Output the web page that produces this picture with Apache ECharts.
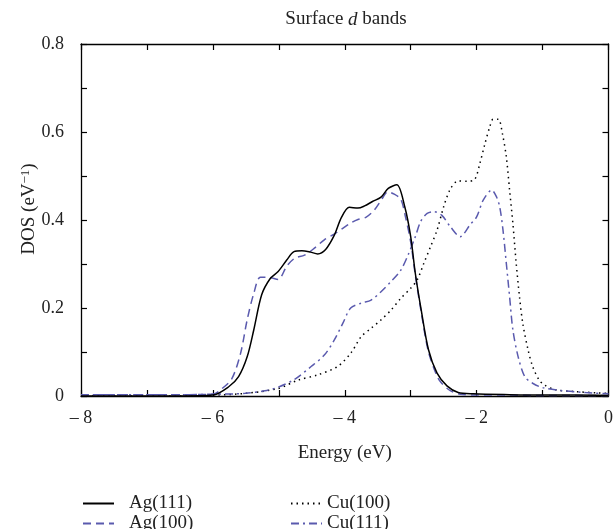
<!DOCTYPE html>
<html>
<head>
<meta charset="utf-8">
<script src="https://cdn.jsdelivr.net/npm/echarts@6/dist/echarts.min.js"></script>
<style>html,body{margin:0;padding:0;background:#fff}#c{width:616px;height:529px}</style>
</head>
<body>
<div id="c"></div>
<script>
var seriesNames = ['Ag(111)', 'Ag(100)', 'Cu(100)', 'Cu(111)'];
var xTicks = [-8, -6, -4, -2, 0];
var yTicks = [0, 0.2, 0.4, 0.6, 0.8];

var ag111E = [-8, -7, -6.5, -6.0, -5.76, -5.61, -5.48, -5.38, -5.26, -5.13, -5.01, -4.88, -4.77, -4.65, -4.52, -4.41, -4.29, -4.16, -4.05, -3.93, -3.80, -3.70, -3.58, -3.45, -3.34, -3.21, -3.09, -3.0, -2.93, -2.84, -2.73, -2.60, -2.45, -2.28, -2.05, -1.5, -1.0, -0.5, 0];
var ag111D = [0, 0, 0, 0.002, 0.021, 0.044, 0.089, 0.15, 0.23, 0.267, 0.283, 0.309, 0.328, 0.330, 0.327, 0.323, 0.333, 0.365, 0.406, 0.429, 0.427, 0.432, 0.442, 0.452, 0.472, 0.480, 0.430, 0.362, 0.279, 0.195, 0.105, 0.052, 0.023, 0.008, 0.005, 0.003, 0.002, 0.002, 0.001];

var ag100E = [-8, -7, -6.5, -6.0, -5.86, -5.71, -5.58, -5.48, -5.38, -5.28, -5.16, -5.01, -4.88, -4.76, -4.61, -4.46, -4.31, -4.16, -4.03, -3.91, -3.80, -3.68, -3.55, -3.43, -3.35, -3.25, -3.15, -3.08, -3.0, -2.93, -2.84, -2.73, -2.60, -2.53, -2.40, -2.25, -2.0, -1.5, -1.0, -0.5, 0];
var ag100D = [0.003, 0.003, 0.003, 0.004, 0.017, 0.040, 0.097, 0.173, 0.233, 0.27, 0.27, 0.265, 0.295, 0.313, 0.32, 0.336, 0.355, 0.368, 0.381, 0.393, 0.401, 0.406, 0.423, 0.449, 0.464, 0.459, 0.447, 0.408, 0.35, 0.275, 0.19, 0.10, 0.045, 0.029, 0.012, 0.004, 0.002, 0.002, 0.001, 0.001, 0.001];

var cu100E = [-8, -6.5, -6.0, -5.5, -5.01, -4.71, -4.41, -4.11, -3.91, -3.75, -3.60, -3.45, -3.30, -3.15, -3.00, -2.90, -2.80, -2.70, -2.60, -2.50, -2.40, -2.28, -2.15, -2.03, -1.95, -1.88, -1.80, -1.75, -1.67, -1.61, -1.55, -1.50, -1.45, -1.40, -1.35, -1.30, -1.22, -1.15, -1.05, -0.97, -0.80, -0.5, -0.15, 0];
var cu100D = [0, 0, 0.002, 0.006, 0.017, 0.036, 0.048, 0.067, 0.097, 0.135, 0.154, 0.173, 0.195, 0.222, 0.245, 0.264, 0.302, 0.339, 0.377, 0.430, 0.470, 0.489, 0.488, 0.492, 0.529, 0.57, 0.612, 0.629, 0.629, 0.597, 0.544, 0.468, 0.392, 0.302, 0.226, 0.165, 0.105, 0.067, 0.036, 0.025, 0.014, 0.01, 0.007, 0.006];

var cu111E = [-8, -7, -6.5, -6.0, -5.51, -5.21, -5.01, -4.76, -4.51, -4.31, -4.16, -4.03, -3.91, -3.75, -3.60, -3.45, -3.30, -3.15, -3.03, -2.93, -2.85, -2.75, -2.65, -2.53, -2.40, -2.25, -2.10, -2.0, -1.90, -1.77, -1.70, -1.65, -1.60, -1.55, -1.50, -1.45, -1.37, -1.27, -1.15, -1.0, -0.7, -0.35, 0];
var cu111D = [0.003, 0.003, 0.003, 0.004, 0.006, 0.012, 0.02, 0.038, 0.067, 0.093, 0.127, 0.165, 0.200, 0.211, 0.218, 0.237, 0.26, 0.286, 0.324, 0.362, 0.396, 0.415, 0.419, 0.411, 0.385, 0.362, 0.389, 0.407, 0.445, 0.468, 0.453, 0.430, 0.377, 0.302, 0.226, 0.15, 0.089, 0.044, 0.029, 0.019, 0.012, 0.008, 0.005];

function pairs(xs, ys) { return xs.map(function (x, i) { return [x, ys[i]]; }); }

var FONT = '"Liberation Serif", "DejaVu Serif", serif';
var BLUE = '#5a5aae';
var TXT = '#222';

function xLabel(v) { return v === 0 ? '0' : '\u2013 ' + Math.abs(v); }
function yLabel(v) { return v === 0 ? '0' : v.toFixed(1); }

var chart = echarts.init(document.getElementById('c'));
var axisLine = { show: true, onZero: false, lineStyle: { color: '#000', width: 1.3 } };
var tick = { show: true, inside: true, length: 6, lineStyle: { color: '#000', width: 1.2 } };
var minor = { show: true, splitNumber: 2, length: 6, lineStyle: { color: '#000', width: 1.2 } };

function legendItem(name, left, top, textPad) {
  return {
    data: [name], left: left, top: top, padding: 0, itemWidth: 31, itemHeight: 14,
    itemStyle: { opacity: 0 },
    textStyle: { fontFamily: FONT, fontSize: 19, color: TXT, padding: [0, 0, 0, textPad] }
  };
}

chart.setOption({
  animation: false,
  backgroundColor: '#fff',
  title: {
    text: 'Surface {i|d} bands',
    left: 341, top: 5, textAlign: 'center',
    textStyle: { fontFamily: FONT, fontSize: 19, fontWeight: 'normal', color: TXT,
      rich: { i: { fontFamily: FONT, fontSize: 19, fontStyle: 'italic', color: TXT } } }
  },
  grid: { left: 81, right: 3, top: 44, bottom: 133 },
  legend: [
    legendItem(seriesNames[0], 82, 494, 10),
    legendItem(seriesNames[1], 82, 514, 10),
    legendItem(seriesNames[2], 290, 494, 0),
    legendItem(seriesNames[3], 290, 514, 0)
  ],
  xAxis: [
    { type: 'value', min: -8, max: 0, interval: 2, position: 'bottom',
      axisLine: axisLine, axisTick: tick, minorTick: minor, splitLine: { show: false },
      axisLabel: { formatter: xLabel, fontFamily: FONT, fontSize: 18, color: TXT, margin: 13 },
      name: 'Energy (eV)', nameLocation: 'middle', nameGap: 48, nameMoveOverlap: false,
      nameTextStyle: { fontFamily: FONT, fontSize: 19, color: TXT } },
    { type: 'value', min: -8, max: 0, interval: 2, position: 'top',
      axisLine: axisLine, axisTick: tick, minorTick: minor, splitLine: { show: false },
      axisLabel: { show: false } }
  ],
  yAxis: [
    { type: 'value', min: 0, max: 0.8, interval: 0.2, position: 'left',
      axisLine: axisLine, axisTick: tick, minorTick: minor, splitLine: { show: false },
      axisLabel: { formatter: yLabel, fontFamily: FONT, fontSize: 18, color: TXT, margin: 17 },
      name: 'DOS (eV{s|\u22121})', nameLocation: 'middle', nameRotate: 90, nameGap: 41, nameMoveOverlap: false,
      nameTextStyle: { fontFamily: FONT, fontSize: 19, color: TXT, padding: [0, 0, 0, 22],
        rich: { s: { fontFamily: FONT, fontSize: 13, color: TXT, padding: [0, 0, 8, 0] } } } },
    { type: 'value', min: 0, max: 0.8, interval: 0.2, position: 'right',
      axisLine: axisLine, axisTick: tick, minorTick: minor, splitLine: { show: false },
      axisLabel: { show: false } }
  ],
  series: [
    { name: seriesNames[0], type: 'line', data: pairs(ag111E, ag111D), symbol: 'none', smooth: 0.3,
      color: '#000', lineStyle: { color: '#000', width: 1.5, type: 'solid' }, z: 4 },
    { name: seriesNames[1], type: 'line', data: pairs(ag100E, ag100D), symbol: 'none', smooth: 0.3,
      color: BLUE, lineStyle: { color: BLUE, width: 1.5, type: [8, 5] }, z: 3 },
    { name: seriesNames[2], type: 'line', data: pairs(cu100E, cu100D), symbol: 'none', smooth: 0.3,
      color: '#000', lineStyle: { color: '#000', width: 1.5, type: [1.5, 4] }, z: 2 },
    { name: seriesNames[3], type: 'line', data: pairs(cu111E, cu111D), symbol: 'none', smooth: 0.3,
      color: BLUE, lineStyle: { color: BLUE, width: 1.5, type: [8, 4, 2, 4] }, z: 2 }
  ]
});
</script>
</body>
</html>
